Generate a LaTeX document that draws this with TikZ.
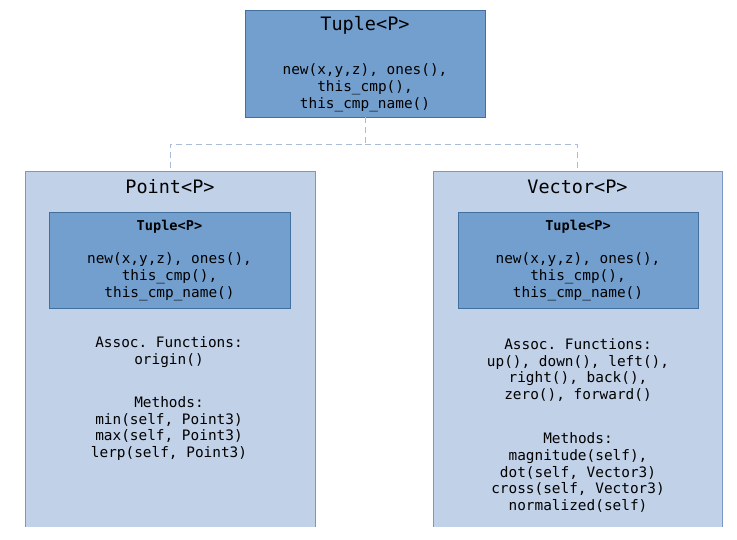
\documentclass[tikz,border=0pt]{standalone}
\usepackage{fontspec}
\setmonofont{DejaVu Sans Mono}
\usetikzlibrary{positioning}

\definecolor{tuplefill}{RGB}{115,159,207}
\definecolor{tupleline}{RGB}{66,112,158}
\definecolor{outerfill}{RGB}{193,209,232}
\definecolor{outerline}{RGB}{122,152,196}
\definecolor{linkgrey}{RGB}{170,188,214}

\begin{document}
\begin{tikzpicture}[
    x=1pt,y=-1pt,
    tuplebox/.style={draw=tupleline,fill=tuplefill,inner sep=0pt,anchor=north west},
    outerbox/.style={draw=outerline,fill=outerfill,inner sep=0pt,anchor=north west,minimum width=290pt,minimum height=380pt},
    bigtitle/.style={font=\ttfamily\fontsize{18.5}{20}\selectfont},
    smalltitle/.style={font=\ttfamily\bfseries\fontsize{13.6}{16}\selectfont},
    body/.style={align=center,font=\ttfamily\fontsize{14.4}{16.9}\selectfont,inner sep=0pt},
    link/.style={draw=linkgrey,thick,dash pattern=on 6pt off 4pt},
  ]
    \useasboundingbox (0,0) rectangle (737,540);

    % top tuple
    \node[tuplebox,minimum width=240pt,minimum height=107pt] (tuple) at (245,10) {};
    \node[bigtitle] (tupletitle) at (365,25) {Tuple<P>};
    \node[body] (tuplebody) at (365,87.5) {new(x,y,z), ones(),\\this\_cmp(),\\this\_cmp\_name()};

    % outer boxes, cut at the bottom
    \begin{scope}
      \clip (0,0) rectangle (737,526);
      \node[outerbox] (point) at (25,171) {};
      \node[outerbox,minimum width=289pt] (vector) at (433,171) {};
    \end{scope}

    \draw[link] (tuple.south) -- ++(0,27) -| (point.north);
    \draw[link] (tuple.south) ++(0,27) -| (vector.north);

    % point
    \node[bigtitle] (pointtitle) at (170,187) {Point<P>};
    \node[tuplebox,minimum width=241pt,minimum height=96pt] (pttuple) at (49,212) {};
    \node[smalltitle] (pttupletitle) at (169.5,227) {Tuple<P>};
    \node[body] (pttuplebody) at (169.5,276.5) {new(x,y,z), ones(),\\this\_cmp(),\\this\_cmp\_name()};
    \node[body] (ptfuncs) at (169,352) {Assoc. Functions:\\origin()};
    \node[body] (ptmethods) at (169,428.5) {Methods:\\min(self, Point3)\\max(self, Point3)\\lerp(self, Point3)};

    % vector
    \node[bigtitle] (vectortitle) at (577.5,187) {Vector<P>};
    \node[tuplebox,minimum width=240pt,minimum height=96pt] (vectuple) at (458,212) {};
    \node[smalltitle] (vectupletitle) at (578,227) {Tuple<P>};
    \node[body] (vectuplebody) at (578,276.5) {new(x,y,z), ones(),\\this\_cmp(),\\this\_cmp\_name()};
    \node[body] (vecfuncs) at (578,370) {Assoc. Functions:\\up(), down(), left(),\\right(), back(),\\zero(), forward()};
    \node[body] (vecmethods) at (578,472.5) {Methods:\\magnitude(self),\\dot(self, Vector3)\\cross(self, Vector3)\\normalized(self)};
\end{tikzpicture}
\end{document}
